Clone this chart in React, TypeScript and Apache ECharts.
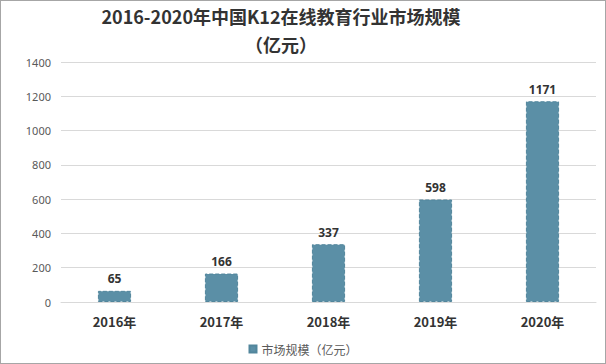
import React, { useEffect, useRef } from "react";
import * as echarts from "echarts";

const categories = ["2016年", "2017年", "2018年", "2019年", "2020年"];
const values = [65, 166, 337, 598, 1171];
const seriesName = "市场规模（亿元）";
const titleText = "2016-2020年中国K12在线教育行业市场规模\n（亿元）";

export default function App() {
  const ref = useRef<HTMLDivElement>(null);
  useEffect(() => {
    document.body.style.margin = "0";
    const chart = echarts.init(ref.current!, null, { renderer: "svg" });
    chart.setOption({
      animation: false,
      backgroundColor: "#ffffff",
      title: {
        text: titleText,
        left: 275,
        top: -4,
        textAlign: "center",
        textStyle: {
          fontFamily: "Noto Sans CJK SC",
          fontSize: 18,
          fontWeight: "bold",
          color: "#333333",
          lineHeight: 28,
        },
      },
      legend: {
        bottom: 3,
        left: "center",
        itemWidth: 7,
        itemHeight: 7,
        icon: "rect",
        textStyle: { fontFamily: "Noto Sans CJK SC", fontSize: 12, color: "#595959" },
        data: [seriesName],
      },
      grid: { left: 60, right: 9, top: 61, bottom: 61, containLabel: false },
      xAxis: {
        type: "category",
        data: categories,
        axisLine: { lineStyle: { color: "#d9d9d9" } },
        axisTick: { show: false },
        axisLabel: {
          fontFamily: "Noto Sans CJK SC",
          fontSize: 13,
          fontWeight: "bold",
          color: "#333333",
          margin: 13,
        },
      },
      yAxis: {
        type: "value",
        min: 0,
        max: 1400,
        interval: 200,
        axisLine: { show: false },
        axisTick: { show: false },
        splitLine: { lineStyle: { color: "#d9d9d9" } },
        axisLabel: {
          fontFamily: "Noto Sans",
          fontSize: 11,
          color: "#595959",
          margin: 10,
          formatter: (v: number) => String(v),
        },
      },
      series: [
        {
          name: seriesName,
          type: "bar",
          data: values,
          barWidth: "31%",
          itemStyle: { color: "#5b8fa6", borderColor: "#52869c", borderWidth: 1, borderType: "dashed" },
          label: {
            show: true,
            position: "top",
            fontFamily: "Noto Sans",
            fontSize: 12,
            fontWeight: "bold",
            color: "#333333",
            distance: 6,
          },
        },
      ],
    });
    return () => chart.dispose();
  }, []);
  return (
    <div
      ref={ref}
      style={{ width: 606, height: 364, boxSizing: "border-box", border: "1px solid #a6a6a6" }}
    />
  );
}
